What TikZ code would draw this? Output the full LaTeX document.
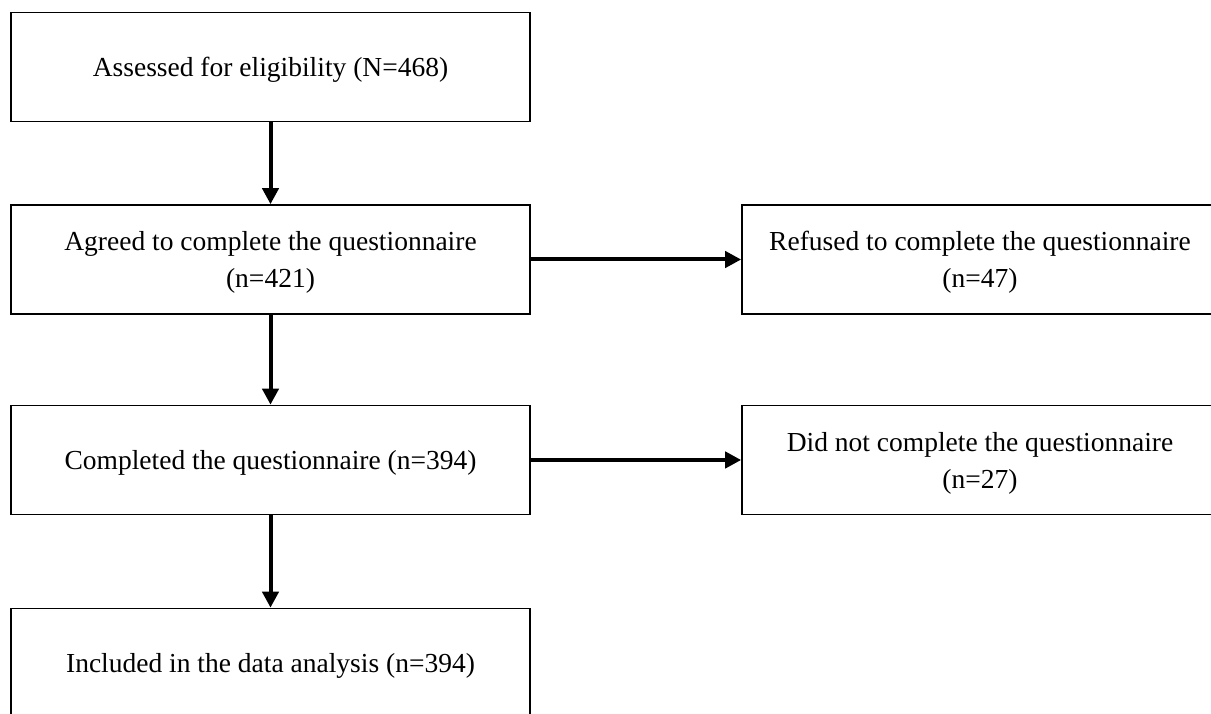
\documentclass[tikz,border=0pt]{standalone}
\usepackage{fontspec}
\setmainfont{Liberation Serif}
\usetikzlibrary{arrows.meta}
\begin{document}
\begin{tikzpicture}[x=1pt,y=-1pt,
  box/.style={draw, line width=1.6pt, inner sep=0pt},
  txt/.style={align=center, inner sep=0pt, yshift=-3pt,
    font=\fontsize{27.5}{37}\selectfont},
  lbox/.style={box, minimum width=519pt, minimum height=109pt},
  rbox/.style={box, minimum width=476pt, minimum height=109pt},
  flow/.style={line width=4pt, -{Triangle[length=16pt,width=16pt]}}]
\useasboundingbox (0,0) rectangle (1211,714);
\node[lbox, label={[txt]center:{Assessed for eligibility (N=468)}}] (a) at (270.5,67) {};
\node[lbox, label={[txt]center:{Agreed to complete the questionnaire\\(n=421)}}] (b) at (270.5,259.5) {};
\node[lbox, label={[txt]center:{Completed the questionnaire (n=394)}}] (c) at (270.5,460) {};
\node[lbox, label={[txt]center:{Included in the data analysis (n=394)}}] (d) at (270.5,663) {};
\node[rbox, label={[txt]center:{Refused to complete the questionnaire\\(n=47)}}] (r1) at (980,259.5) {};
\node[rbox, label={[txt]center:{Did not complete the questionnaire\\(n=27)}}] (r2) at (980,460) {};
\draw[flow] (a) -- (b);
\draw[flow] (b) -- (c);
\draw[flow] (c) -- (d);
\draw[flow] (b) -- (r1);
\draw[flow] (c) -- (r2);
\end{tikzpicture}
\end{document}
